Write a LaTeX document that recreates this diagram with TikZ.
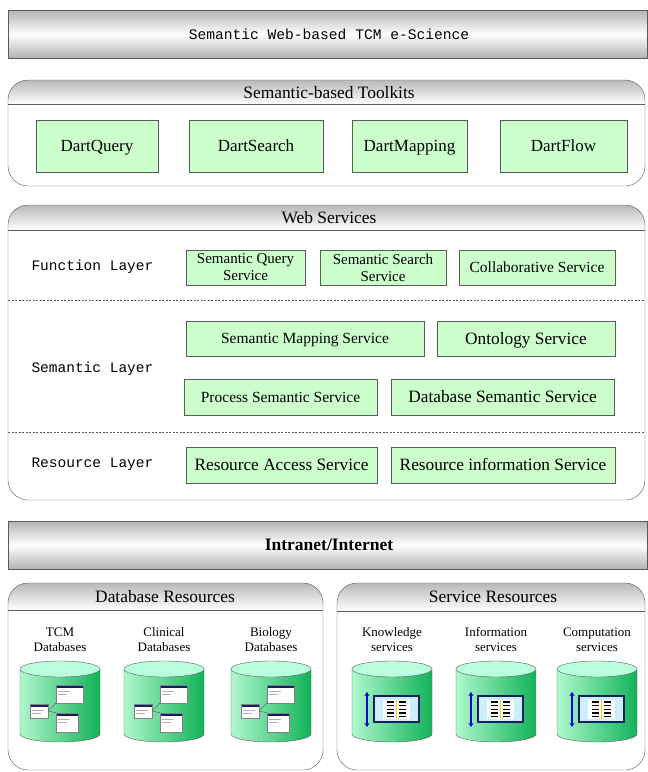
\documentclass[tikz,border=0pt]{standalone}
\usepackage{fontspec}
\setmainfont{Liberation Serif}
\setmonofont{Liberation Mono}
\usetikzlibrary{arrows.meta}

\definecolor{boxgreen}{RGB}{204,255,204}
\definecolor{edgegray}{RGB}{90,90,90}
\definecolor{cylmint}{RGB}{175,248,205}
\definecolor{cylgreen}{RGB}{18,178,88}
\definecolor{cyltop}{RGB}{185,255,222}
\definecolor{navy}{RGB}{20,30,100}

\tikzset{
  svc/.style={draw=edgegray, fill=boxgreen, inner sep=1pt, align=center, font=\fontsize{15}{17}\selectfont},
  one/.style={text height=#1, text depth=0pt},
  one/.default=11.3pt,
  small/.style={one=10.2pt, font=\fontsize{15.5}{17}\selectfont},
  big/.style={one, font=\fontsize{17.3}{19}\selectfont},
  tool/.style={svc, one, minimum height=52pt, font=\fontsize{17}{19}\selectfont},
  lyr/.style={anchor=west, font=\ttfamily\fontsize{14.5}{16}\selectfont},
  ttl/.style={one, font=\fontsize{17.4}{19}\selectfont},
  band/.style={draw=edgegray, top color=gray!60, bottom color=gray!60, middle color=white},
  cyllbl/.style={align=center, font=\fontsize{13}{15}\selectfont},
  tbl/.style={draw=gray, fill=white, inner sep=0pt,
    path picture={\fill[navy] (path picture bounding box.north west) rectangle ([yshift=-2.5pt]path picture bounding box.north east);
      \draw[gray!60, line width=0.6pt] ([xshift=2pt,yshift=-6pt]path picture bounding box.north west) -- ++(12pt,0pt)
        ([xshift=2pt,yshift=-9pt]path picture bounding box.north west) -- ++(9pt,0pt);}},
}

\begin{document}
\begin{tikzpicture}[x=1pt, y=-1pt]
   \useasboundingbox (0,0) rectangle (648,772);

   \draw[band] (8,10) rectangle (647,58);
   \node[font=\ttfamily\fontsize{14.6}{16}\selectfont] (ttop) at (329,34) {Semantic Web-based TCM e-Science};

   \foreach \xa/\ya/\xb/\yb/\yh in {8/80/645/186/104, 8/205/645/500/230, 8/583/323/770/610, 337/583/645/770/611}{
      \begin{scope}
         \clip[rounded corners=20pt] (\xa,\ya) rectangle (\xb,\yb);
         \shade[top color=gray!55, bottom color=white] (\xa,\ya) rectangle (\xb,\yh);
      \end{scope}
      \draw[edgegray, rounded corners=20pt] (\xa,\ya) rectangle (\xb,\yb);
      \draw[edgegray] (\xa,\yh) -- (\xb,\yh);
   }

   \node[ttl] (ttool) at (329,93) {Semantic-based Toolkits};
   \node[tool, minimum width=122pt] (dquery) at (97,146) {DartQuery};
   \node[tool, minimum width=134pt] (dsearch) at (256,146) {DartSearch};
   \node[tool, minimum width=115pt] (dmap) at (409.5,146) {DartMapping};
   \node[tool, minimum width=127pt] (dflow) at (563.5,146) {DartFlow};

   \node[ttl] (tweb) at (329,218) {Web Services};
   \draw[edgegray, dash pattern=on 2pt off 1.5pt] (8,300) -- (645,300);
   \draw[edgegray, dash pattern=on 2pt off 1.5pt] (8,432) -- (645,432);
   \node[lyr] (lfun) at (28,267) {Function Layer};
   \node[lyr] (lsem) at (28,369) {Semantic Layer};
   \node[lyr] (lres) at (28,464) {Resource Layer};

   \node[svc, minimum width=119pt, minimum height=35pt] (sqs) at (245.5,267.5) {Semantic Query\\Service};
   \node[svc, minimum width=126pt, minimum height=35pt] (sss) at (383,267.5) {Semantic Search\\Service};
   \node[svc, small, minimum width=156pt, minimum height=35pt] (cols) at (537,267.5) {Collaborative Service};
   \node[svc, small, minimum width=238pt, minimum height=35pt] (sms) at (305,338.5) {Semantic Mapping Service};
   \node[svc, big, minimum width=178pt, minimum height=35pt] (ont) at (526,338.5) {Ontology Service};
   \node[svc, small, minimum width=193pt, minimum height=36pt] (pss) at (280.5,397) {Process Semantic Service};
   \node[svc, big, minimum width=223pt, minimum height=36pt] (dss) at (502.5,397) {Database Semantic Service};
   \node[svc, big, minimum width=191pt, minimum height=36pt] (ras) at (281.5,465) {Resource Access Service};
   \node[svc, big, minimum width=224pt, minimum height=36pt] (ris) at (503,465) {Resource information Service};

   \draw[band] (8,521) rectangle (647,569);
   \node[one, font=\bfseries\fontsize{17.5}{19}\selectfont] (tnet) at (329,545) {Intranet/Internet};

   \node[ttl] (tdb) at (165,597) {Database Resources};
   \node[ttl] (tsrv) at (493,597) {Service Resources};

   \foreach \cx/\la/\lb [count=\i] in {60/TCM/Databases, 164/Clinical/Databases, 271/Biology/Databases,
         392/Knowledge/services, 496/Information/services, 597/Computation/services}{
      \shade[left color=cylmint, right color=cylgreen] (\cx-40,669) -- (\cx-40,734) arc (180:0:40 and 8) -- (\cx+40,669) -- cycle;
      \draw[edgegray] (\cx-40,669) -- (\cx-40,734) arc (180:0:40 and 8) -- (\cx+40,669);
      \draw[edgegray, fill=cyltop] (\cx,669) ellipse (40 and 8);
      \node[cyllbl] (lbl\i) at (\cx,641) {\strut\la\\\strut\lb};
   }

   \foreach \cx [count=\i] in {60,164,271}{
      \node[tbl, minimum width=27pt, minimum height=18pt] (ta\i) at (\cx+9.5,694) {};
      \node[tbl, minimum width=18pt, minimum height=14pt] (tb\i) at (\cx-21,711) {};
      \node[tbl, minimum width=22pt, minimum height=19pt] (tc\i) at (\cx+7,722.5) {};
      \draw[edgegray] (tb\i.east) -- (ta\i.south west);
      \draw[edgegray] (tb\i.east) -- (tc\i.north west);
   }

   \foreach \cx [count=\i] in {392,496,597}{
      \draw[{Stealth[length=4pt,width=5pt]}-{Stealth[length=4pt,width=5pt]}, blue!85!black, line width=2pt] (\cx-25,692) -- (\cx-25,727);
      \node[draw=navy, line width=2pt, fill=cyan!20, minimum width=45pt, minimum height=26pt, inner sep=0pt] (pnl\i) at (\cx+4.5,709) {};
      \fill[white] (\cx-9,700) rectangle (\cx+18,719);
      \foreach \r in {0,...,4}{
         \draw[black, line width=1.4pt] (\cx-5,702+\r*3.6) -- ++(7,0);
         \draw[black, line width=1.4pt] (\cx+7,702+\r*3.6) -- ++(7,0);
      }
      \draw[yellow!70!orange, line width=0.6pt] (\cx+4.5,700) -- (\cx+4.5,719);
   }
\end{tikzpicture}
\end{document}
